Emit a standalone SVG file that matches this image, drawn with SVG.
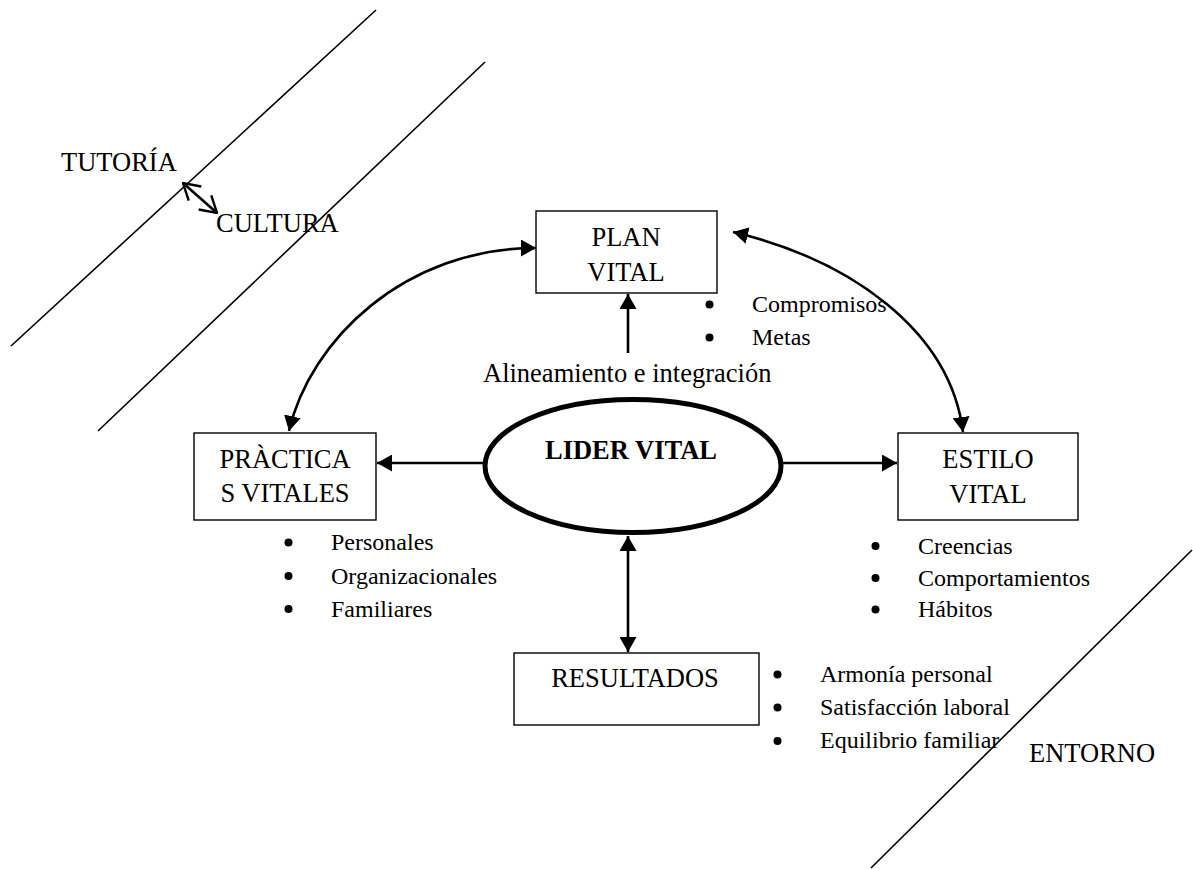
<svg xmlns="http://www.w3.org/2000/svg" width="1193" height="869" viewBox="0 0 1193 869">
  <style>
    text { font-family: "Liberation Serif", "Times New Roman", serif; fill: #000; }
    .big { font-size: 26.5px; }
    .item { font-size: 24px; }
    .mid { text-anchor: middle; }
    .bold { font-weight: bold; }
    .box { fill: #fff; stroke: #000; stroke-width: 1.4; }
    .band { fill: none; stroke: #000; stroke-width: 1.6; }
    .conn { fill: none; stroke: #000; stroke-width: 2.6; }
    .dot { fill: #000; }
  </style>
  <defs>
    <marker id="tri" viewBox="0 0 15 17" refX="15" refY="8.5" markerWidth="15" markerHeight="17" markerUnits="userSpaceOnUse" orient="auto-start-reverse">
      <path d="M0,0 L15,8.5 L0,17 Z" fill="#000"/>
    </marker>
    <marker id="vee" viewBox="0 0 18 22" refX="17" refY="11" markerWidth="18" markerHeight="22" markerUnits="userSpaceOnUse" orient="auto-start-reverse">
      <path d="M1,1.5 L17,11 L1,20.5" fill="none" stroke="#000" stroke-width="2.4"/>
    </marker>
  </defs>

  <!-- diagonal boundary lines -->
  <g id="bands">
    <line class="band" x1="376" y1="10" x2="11" y2="346"/>
    <line class="band" x1="485" y1="62" x2="98" y2="431"/>
    <line class="band" x1="1192" y1="550" x2="871" y2="868"/>
  </g>

  <g id="labels-outer">
    <text class="big" x="61" y="171">TUTORÍA</text>
    <text class="big" x="216" y="232">CULTURA</text>
    <text class="big" x="1029" y="762">ENTORNO</text>
    <text class="big" x="483" y="382">Alineamiento e integración</text>
  </g>

  <!-- connectors -->
  <g id="connectors">
    <line class="conn" x1="183" y1="183" x2="217" y2="213" marker-start="url(#vee)" marker-end="url(#vee)"/>
    <path class="conn" d="M289,431 C310,340 405,248 536,248" marker-start="url(#tri)" marker-end="url(#tri)"/>
    <path class="conn" d="M733,232 C850,260 950,330 963,432" marker-start="url(#tri)" marker-end="url(#tri)"/>
    <line class="conn" x1="628" y1="353" x2="628" y2="294" marker-end="url(#tri)"/>
    <line class="conn" x1="485" y1="463" x2="377" y2="463" marker-end="url(#tri)"/>
    <line class="conn" x1="783" y1="463" x2="897" y2="463" marker-end="url(#tri)"/>
    <line class="conn" x1="628" y1="536" x2="628" y2="652" marker-start="url(#tri)" marker-end="url(#tri)"/>
  </g>

  <g id="plan-vital">
    <rect class="box" x="536" y="211" width="181" height="82"/>
    <text class="big mid" x="626" y="246">PLAN</text>
    <text class="big mid" x="626" y="281">VITAL</text>
    <circle class="dot" cx="709.5" cy="304.5" r="4"/>
    <text class="item" x="752" y="312">Compromisos</text>
    <circle class="dot" cx="709.5" cy="337.5" r="4"/>
    <text class="item" x="752" y="345">Metas</text>
  </g>

  <g id="lider-vital">
    <ellipse cx="633" cy="466" rx="148" ry="66.5" fill="#fff" stroke="#000" stroke-width="5"/>
    <text class="big mid bold" x="631" y="459">LIDER VITAL</text>
  </g>

  <g id="practicas-vitales">
    <rect class="box" x="194" y="433" width="182" height="87"/>
    <text class="big mid" x="285" y="468">PRÀCTICA</text>
    <text class="big mid" x="285" y="502">S VITALES</text>
    <circle class="dot" cx="288.5" cy="542.5" r="4"/>
    <text class="item" x="331" y="550">Personales</text>
    <circle class="dot" cx="288.5" cy="576" r="4"/>
    <text class="item" x="331" y="583.5">Organizacionales</text>
    <circle class="dot" cx="288.5" cy="609" r="4"/>
    <text class="item" x="331" y="617">Familiares</text>
  </g>

  <g id="estilo-vital">
    <rect class="box" x="898" y="433" width="180" height="87"/>
    <text class="big mid" x="988" y="468">ESTILO</text>
    <text class="big mid" x="988" y="503">VITAL</text>
    <circle class="dot" cx="875.5" cy="546" r="4"/>
    <text class="item" x="918" y="553.5">Creencias</text>
    <circle class="dot" cx="875.5" cy="578" r="4"/>
    <text class="item" x="918" y="585.5">Comportamientos</text>
    <circle class="dot" cx="875.5" cy="609.5" r="4"/>
    <text class="item" x="918" y="617">Hábitos</text>
  </g>

  <g id="resultados">
    <rect class="box" x="514" y="653" width="245" height="72"/>
    <text class="big mid" x="635" y="687">RESULTADOS</text>
    <circle class="dot" cx="777.5" cy="674.5" r="4"/>
    <text class="item" x="820" y="682">Armonía personal</text>
    <circle class="dot" cx="777.5" cy="707.5" r="4"/>
    <text class="item" x="820" y="715">Satisfacción laboral</text>
    <circle class="dot" cx="777.5" cy="741" r="4"/>
    <text class="item" x="820" y="748">Equilibrio familiar</text>
  </g>
</svg>
